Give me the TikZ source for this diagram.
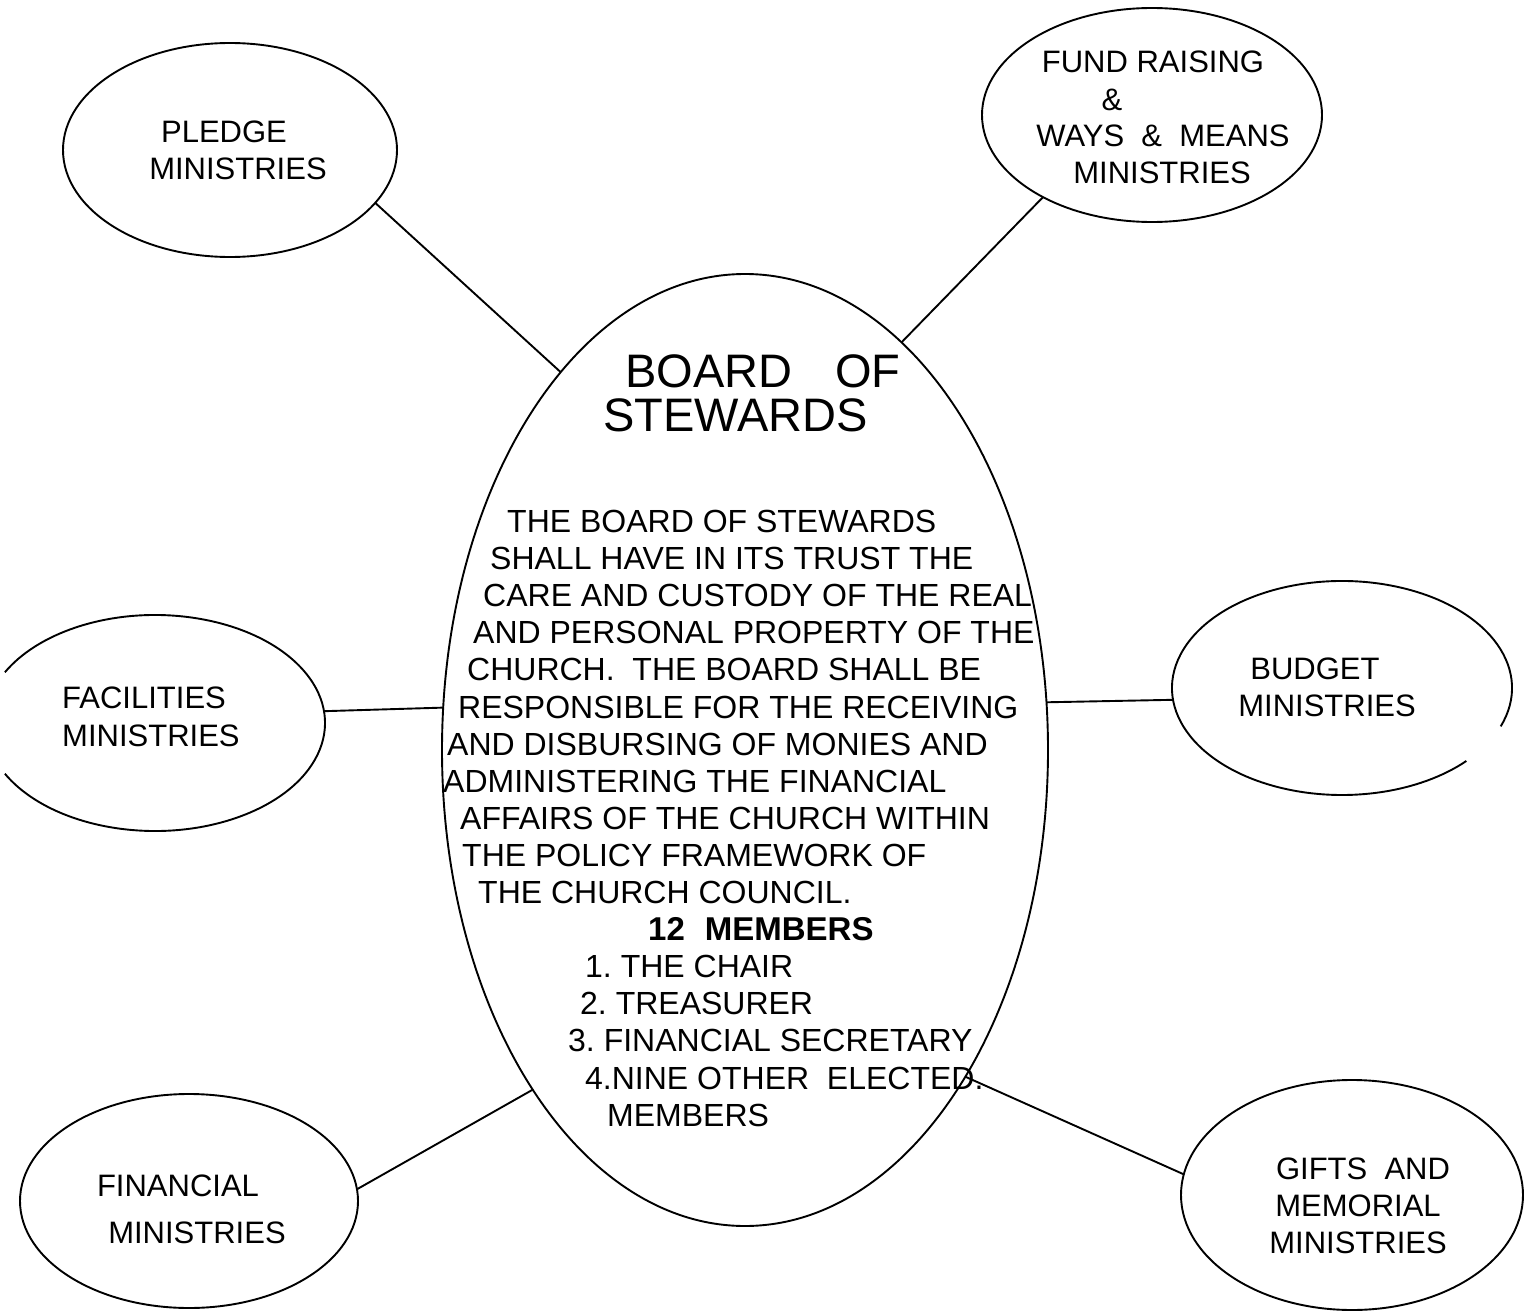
\documentclass[tikz,border=0pt]{standalone}
\usepackage{fontspec}
\setmainfont{Liberation Sans}
\usetikzlibrary{shapes.geometric}
\frenchspacing
\begin{document}
\begin{tikzpicture}[x=1pt,y=1pt,
  oval/.style={ellipse,draw,line width=1.9pt,inner sep=0pt,outer sep=0pt},
  openoval/.style={ellipse,inner sep=0pt,outer sep=0pt},
  conn/.style={line width=1.9pt},
  sat/.style={inner sep=0pt,anchor=base,font=\fontsize{31}{37}\selectfont},
  body/.style={inner sep=0pt,anchor=base west,font=\fontsize{32}{37}\selectfont},
  title/.style={inner sep=0pt,anchor=base west,font=\fontsize{47}{52}\selectfont}]
\fill[white] (0,0) rectangle (1535,-1311);
\useasboundingbox (0,0) rectangle (1535,-1311);

% central ellipse
\node[oval,minimum width=606pt,minimum height=952pt] (board) at (745,-750) {};

% satellites
\node[oval,minimum width=334pt,minimum height=214pt] (pledge) at (230,-150) {};
\node[oval,minimum width=340pt,minimum height=214pt] (fund) at (1152,-115) {};
\node[openoval,minimum width=340pt,minimum height=216pt] (fac) at (155,-723) {};
\node[openoval,minimum width=340pt,minimum height=214pt] (budget) at (1342,-688) {};
\node[oval,minimum width=338pt,minimum height=214pt] (fin) at (189,-1201) {};
\node[oval,minimum width=342pt,minimum height=230pt] (gifts) at (1352,-1195) {};

\draw[line width=1.9pt] ([shift={(-152:170pt and 108pt)}]fac.center)
  arc[start angle=-152,end angle=152,x radius=170pt,y radius=108pt];
\draw[line width=1.9pt] ([shift={(-21:170pt and 107pt)}]budget.center)
  arc[start angle=-21,end angle=317,x radius=170pt,y radius=107pt];

% connectors
\draw[conn] (pledge.-20.2) -- (board.116);
\draw[conn] (fund.217.3) -- (board.69.3);
\draw[conn] (fac.4.4) -- (board.172.4);
\draw[conn] (budget.184.1) -- (board.9.4);
\draw[conn] (fin.4.7) -- (board.-122.8);
\draw[conn] (gifts.173.9) -- (board.-56.6);

% satellite texts
\node[sat] (p1) at (224,-143) {PLEDGE};
\node[sat] (p2) at (238,-179) {MINISTRIES};
\node[sat] (f1) at (1153,-73) {FUND RAISING};
\node[sat] (f2) at (1112,-111) {\&};
\node[sat] (f3) at (1163,-147) {WAYS \ \& \ MEANS};
\node[sat] (f4) at (1162,-183) {MINISTRIES};
\node[sat,anchor=base west] (c1) at (62,-708) {FACILITIES};
\node[sat,anchor=base west] (c2) at (62,-746) {MINISTRIES};
\node[sat] (u1) at (1315,-679) {BUDGET};
\node[sat] (u2) at (1327,-716) {MINISTRIES};
\node[sat] (n1) at (178,-1196) {FINANCIAL};
\node[sat] (n2) at (197,-1243) {MINISTRIES};
\node[sat] (g1) at (1363,-1179) {GIFTS \ AND};
\node[sat] (g2) at (1358,-1216) {MEMORIAL};
\node[sat] (g3) at (1358,-1253) {MINISTRIES};

% title
\node[title] (t1) at (625,-387) {BOARD\hspace{43pt}OF};
\node[title] (t2) at (603,-431) {STEWARDS};

% body
\node[body] (b1) at (507,-532.5) {THE BOARD OF STEWARDS};
\node[body] (b2) at (490,-569.6) {SHALL HAVE IN ITS TRUST THE};
\node[body] (b3) at (483,-606.7) {CARE AND CUSTODY OF THE REAL};
\node[body] (b4) at (473,-643.8) {AND PERSONAL PROPERTY OF THE};
\node[body] (b5) at (467,-680.9) {CHURCH. \ THE BOARD SHALL BE};
\node[body] (b6) at (458,-718.0) {RESPONSIBLE FOR THE RECEIVING};
\node[body] (b7) at (447,-755.1) {AND DISBURSING OF MONIES AND};
\node[body] (b8) at (443,-792.2) {ADMINISTERING THE FINANCIAL};
\node[body] (b9) at (460,-829.3) {AFFAIRS OF THE CHURCH WITHIN};
\node[body] (b10) at (462,-866.4) {THE POLICY FRAMEWORK OF};
\node[body] (b11) at (478,-903.5) {THE CHURCH COUNCIL.};
\node[body,font=\fontsize{33}{37}\selectfont\bfseries] (b12) at (648,-940.6) {12\hspace{20pt}MEMBERS};
\node[body] (b13) at (585,-977.7) {1. THE CHAIR};
\node[body] (b14) at (580,-1014.8) {2. TREASURER};
\node[body] (b15) at (568,-1051.9) {3. FINANCIAL SECRETARY};
\node[body] (b16) at (585,-1089.0) {4.NINE OTHER \ ELECTED.};
\node[body] (b17) at (607,-1126.1) {MEMBERS};
\end{tikzpicture}
\end{document}
